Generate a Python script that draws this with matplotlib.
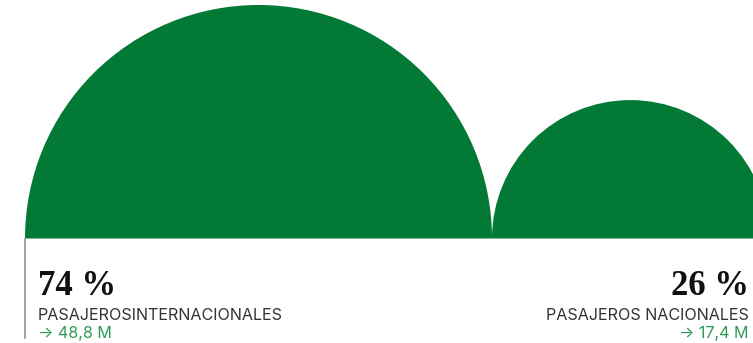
import numpy as np
import matplotlib
matplotlib.use("Agg")
import matplotlib.pyplot as plt
from matplotlib.patches import Wedge


shares = [74, 26]
labels = ["PASAJEROSINTERNACIONALES", "PASAJEROS NACIONALES"]
amounts = ["48,8 M", "17,4 M"]

GREEN = "#027935"
LIGHT_GREEN = "#2f9a57"
W, H = 753, 343

fig = plt.figure(figsize=(W / 100, H / 100), dpi=100)
ax = fig.add_axes([0, 0, 1, 1])
ax.set_xlim(0, W)
ax.set_ylim(H, 0)
ax.axis("off")

# area-proportional half circles sitting on a common baseline
base_y = 238.5
max_r = 233.5
radii = max_r * np.sqrt(np.array(shares) / max(shares))

x = 25.0
for r in radii:
    # y axis is inverted, so 180..360 draws the upper half
    ax.add_patch(Wedge((x + r, base_y), r, 180, 360, color=GREEN, lw=0))
    x += 2 * r

ax.plot([25, 25], [base_y, 338], color="#9a9a9a", lw=1.3)

sans = ["Inter", "DejaVu Sans"]
serif = "Liberation Serif"

# left block
ax.text(38, 295, f"{shares[0]} %", fontsize=25, fontweight="bold",
        family=serif, color="#111111", va="baseline", ha="left")
ax.text(38, 319.5, labels[0], fontsize=11.6, family=sans,
        color="#333333", va="baseline", ha="left")
ax.text(38, 338, "\u2192 " + amounts[0], fontsize=11.6, family=sans,
        color=LIGHT_GREEN, va="baseline", ha="left")

# right block
ax.text(749, 295, f"{shares[1]} %", fontsize=25, fontweight="bold",
        family=serif, color="#111111", va="baseline", ha="right")
ax.text(749, 319.5, labels[1], fontsize=11.6, family=sans,
        color="#333333", va="baseline", ha="right")
ax.text(749, 338, "\u2192 " + amounts[1], fontsize=11.6, family=sans,
        color=LIGHT_GREEN, va="baseline", ha="right")

fig.savefig("out.png", dpi=100)
